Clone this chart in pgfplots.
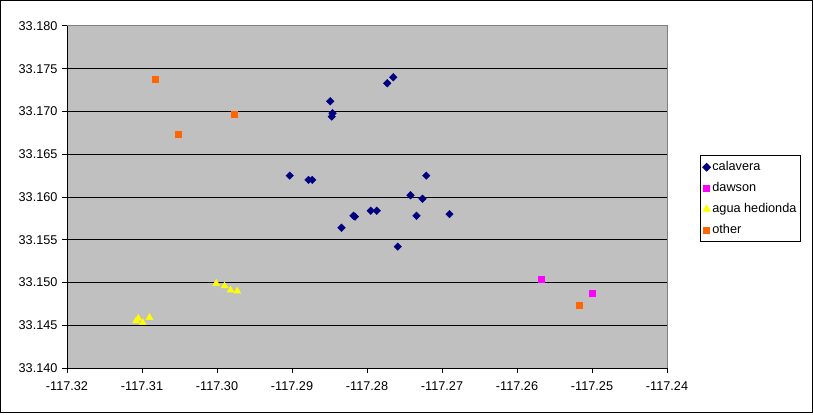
\documentclass[border=0pt]{standalone}
\usepackage{fontspec}
\setmainfont{Liberation Sans}
\usepackage{pgfplots}
\pgfplotsset{compat=1.18}
\definecolor{plotgray}{HTML}{C0C0C0}
\definecolor{navy}{HTML}{000080}
\definecolor{mag}{HTML}{FF00FF}
\definecolor{yel}{HTML}{FFFF00}
\definecolor{orng}{HTML}{FF6600}
\begin{document}
\begin{tikzpicture}[x=1bp,y=1bp]
\fill[white] (0,0) rectangle (813,414);
\useasboundingbox (0,0) rectangle (813,414);
\draw[black,line width=1bp] (0.5,1.5) rectangle (812.5,413.5);
\begin{axis}[
  at={(67bp,46bp)}, anchor=south west,
  scale only axis, width=600bp, height=342bp,
  xmin=-117.32, xmax=-117.24, ymin=33.140, ymax=33.180,
  xtick={-117.32,-117.31,-117.30,-117.29,-117.28,-117.27,-117.26,-117.25,-117.24},
  ytick={33.140,33.145,33.150,33.155,33.160,33.165,33.170,33.175,33.180},
  axis lines=left, axis line style={-, black, line width=1bp},
  axis background/.style={fill=plotgray},
  ymajorgrids, grid style={black, line width=1bp},
  tick align=outside, major tick length=5bp,
  tick style={black, line width=1bp},
  xticklabel style={/pgf/number format/fixed, /pgf/number format/fixed zerofill, /pgf/number format/precision=2, /pgf/number format/1000 sep={}, yshift=-5bp},
  yticklabel style={/pgf/number format/fixed, /pgf/number format/fixed zerofill, /pgf/number format/precision=3, /pgf/number format/1000 sep={}, xshift=-1bp},
  /pgf/number format/assume math mode=true,
  ticklabel style={font=\fontsize{12.7bp}{15bp}\selectfont},
  clip=false,
  legend image code/.code={\draw[mark repeat=2,mark phase=2,#1] plot coordinates {(0bp,0bp) (6bp,0bp) (12bp,0bp)};},
  legend style={at={(1.0555,0.6228)}, anchor=north west, draw=black, line width=1bp, fill=white,
    font=\fontsize{12.7bp}{15bp}\selectfont, row sep=0.6bp, inner xsep=2bp, inner ysep=1.5bp,
    nodes={text height=9.5bp, text depth=2.5bp, inner ysep=4.2bp, inner xsep=2bp}},
  legend cell align=left,
]
\draw[gray, line width=1bp] (rel axis cs:0,1) -- (rel axis cs:1,1) -- (rel axis cs:1,0);
\addplot[only marks, mark=diamond*, mark size=3.8bp, mark options={fill=navy, draw=navy, xscale=1.33}] coordinates {
(-117.2849,33.1712) (-117.2846,33.1698) (-117.2847,33.1694)
(-117.2903,33.1625) (-117.2878,33.1620) (-117.2873,33.1620)
(-117.2773,33.1733) (-117.2765,33.1740)
(-117.2721,33.1625) (-117.2742,33.1602) (-117.2726,33.1598)
(-117.2795,33.1584) (-117.2787,33.1584)
(-117.2818,33.1578) (-117.2816,33.1577)
(-117.2734,33.1578) (-117.2690,33.1580)
(-117.2834,33.1564) (-117.2759,33.1542)
};
\addlegendentry{calavera}
\addplot[only marks, mark=square*, mark size=3bp, mark options={fill=mag, draw=mag}] coordinates {
(-117.2568,33.1504) (-117.2500,33.1487)
};
\addlegendentry{dawson}
\addplot[only marks, mark=triangle*, mark size=4bp, mark options={fill=yel, draw=yel}] coordinates {
(-117.3001,33.1499) (-117.2990,33.1496) (-117.2982,33.1491) (-117.2973,33.1490)
(-117.3105,33.1458) (-117.3108,33.1455) (-117.3099,33.1453) (-117.3090,33.1459)
};
\addlegendentry{agua hedionda}
\addplot[only marks, mark=square*, mark size=3bp, mark options={fill=orng, draw=orng}] coordinates {
(-117.3082,33.1738) (-117.3052,33.1673) (-117.2977,33.1697) (-117.2517,33.1474)
};
\addlegendentry{other}
\end{axis}
\end{tikzpicture}
\end{document}
